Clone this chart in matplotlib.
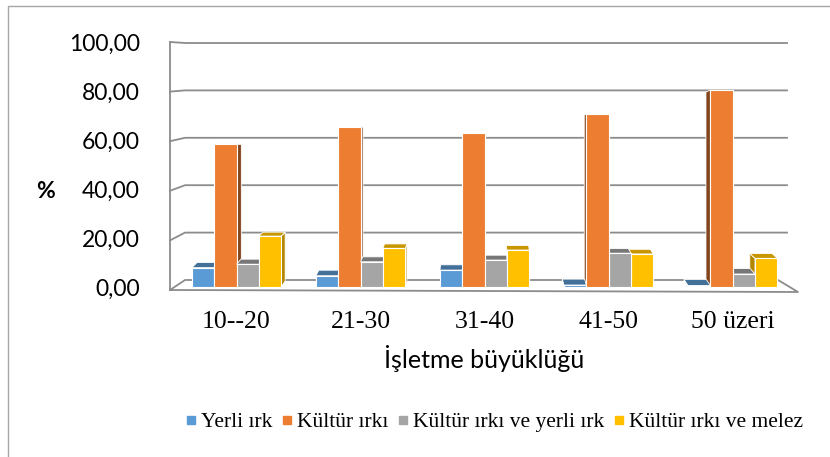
import matplotlib
matplotlib.use("Agg")
import matplotlib.pyplot as plt
from matplotlib.colors import to_rgb
from matplotlib.lines import Line2D
from matplotlib.patches import Polygon
from matplotlib.transforms import Affine2D

# --- data ---
groups = ["10--20", "21-30", "31-40", "41-50", "50 üzeri"]
series = ["Yerli ırk", "Kültür ırkı", "Kültür ırkı ve yerli ırk", "Kültür ırkı ve melez"]
yerli = [7.9, 4.6, 6.9, 0.8, 0.6]
kultur = [58.4, 65.5, 63.1, 70.7, 80.5]
kultur_yerli = [9.3, 10.3, 11.0, 13.8, 5.3]
kultur_melez = [20.8, 15.8, 15.1, 13.5, 11.7]
colors = ["#5B9BD5", "#ED7D31", "#A5A5A5", "#FFC000"]
yticks = [0, 20, 40, 60, 80, 100]

W, H = 830, 457
fig = plt.figure(figsize=(W / 100, H / 100), dpi=100)

# bar plane (pixel box inside the 3D frame)
bx0, bx1, by0, by1 = 174.5, 794.7, 287.0, 42.3
ax = fig.add_axes([bx0 / W, 1 - by0 / H, (bx1 - bx0) / W, (by0 - by1) / H])
ax.set_xlim(-0.5, 4.5)
ax.set_ylim(0, 100)
for s in ax.spines.values():
    s.set_visible(False)
px_per_cat = (bx1 - bx0) / 5
px_per_val = (by0 - by1) / 100

# image-pixel transform (y down) for the walls and floor
pix = Affine2D().scale(1, -1).translate(0, H)
wall = dict(color="#8C8C8C", lw=1.3, transform=pix, clip_on=False, zorder=1)

# front / back planes of the 3D box
L0, R0, Y0, S0 = 170, 798, 290, 2.48
L1, R1, Y1, S1 = 185, 787, 280, 2.37
ax.add_line(Line2D([L0, L0], [Y0, Y0 - S0 * 100], **wall))
for v in yticks[1:]:
    ax.add_line(Line2D([L0, L1, R1], [Y0 - S0 * v, Y1 - S1 * v, Y1 - S1 * v], **wall))
# floor
ax.add_line(Line2D([L0, L1, 778, R0, L0], [Y0, Y1, Y1, Y0 + 2, Y0], **wall))


def shade(c, f):
    return tuple(x * f for x in to_rgb(c))


def back(x, v):
    # depth offset of a bar's back face, in data units (perspective look)
    sx = -(x - 2.0) * 2.3 / px_per_cat
    sy = 0.1 * (60 - v) / px_per_val
    return sx, sy


width = 0.18
offsets = [-1.5, -0.5, 0.5, 1.5]
values = [yerli, kultur, kultur_yerli, kultur_melez]
side_f = [0.7, 0.55, 0.6, 0.7]
top_f = [0.72, 0.7, 0.72, 0.78]
for vals, off, col, sf, tf in zip(values, offsets, colors, side_f, top_f):
    xs = [i + off * width for i in range(len(groups))]
    bars = ax.bar(xs, vals, width=width, color=col, edgecolor="white", lw=0.8)
    for b in bars:
        x0, w, h = b.get_x(), b.get_width(), b.get_height()
        xc = x0 + w / 2
        z = 3 + (3 - abs(xc - 2))
        b.set_zorder(z)
        sx, sy_top = back(xc, h)
        _, sy_bot = back(xc, 0)
        xe = x0 + w if xc < 2 else x0
        side = Polygon([(xe, 0), (xe, h), (xe + sx, h + sy_top), (xe + sx, sy_bot)],
                       closed=True, fc=shade(col, sf), ec="white", lw=0.6, zorder=z - 0.01)
        ax.add_patch(side)
        if sy_top > 0:
            top = Polygon([(x0, h), (x0 + w, h), (x0 + w + sx, h + sy_top), (x0 + sx, h + sy_top)],
                          closed=True, fc=shade(col, tf), ec="white", lw=0.6, zorder=z - 0.005)
            ax.add_patch(top)

ax.set_xticks(range(len(groups)))
ax.set_xticklabels(groups, family="Liberation Serif", fontsize=18.5)
ax.set_yticks(yticks)
ax.set_yticklabels([f"{v:.2f}".replace(".", ",") for v in yticks], family="Lato", fontsize=16.5)
ax.tick_params(axis="x", length=0, pad=17)
ax.tick_params(axis="y", length=0, pad=25)

fig.text(45 / W, 1 - 191 / H, "%", family="Lato", weight="bold", fontsize=16.5,
         ha="center", va="center")
fig.text(484 / W, 1 - 358 / H, "İşletme büyüklüğü", family="Lato", fontsize=18,
         ha="center", va="center")

handles = [Line2D([], [], ls="", marker="s", ms=6, mfc=c, mec=c) for c in colors]
fig.legend(handles, series, loc="center", bbox_to_anchor=(495 / W, 1 - 422 / H),
           ncol=4, frameon=False, prop={"family": "Liberation Serif", "size": 15.5},
           handlelength=0.4, handletextpad=0.25, columnspacing=0.5, borderpad=0)

# outer chart frame (partially visible in the reference)
fig.add_artist(Line2D([8, 8, W + 5], [H + 5, 6, 6], color="#A6A6A6", lw=1,
                      transform=pix))

fig.savefig("out.png", dpi=100)
